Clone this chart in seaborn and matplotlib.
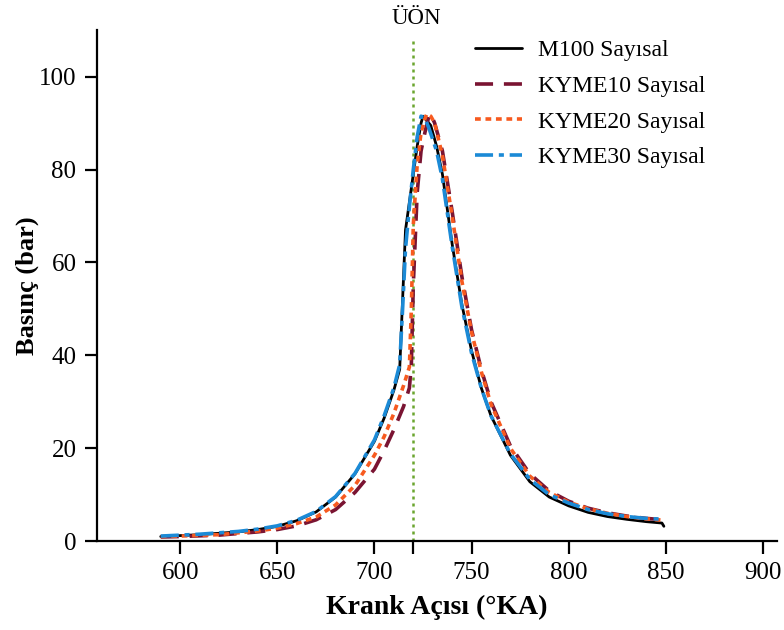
import numpy as np
import pandas as pd
import matplotlib
matplotlib.use("Agg")
import matplotlib.pyplot as plt
import seaborn as sns

# crank angle (deg) and pressure (bar)
m100_x = [590, 600, 610, 620, 630, 640, 650, 660, 670, 680, 690, 700, 705, 710, 713,
          714.5, 716, 718, 720, 722, 724, 725, 727, 729, 732, 735, 740, 745, 750, 755,
          760, 770, 780, 790, 800, 810, 820, 830, 840, 848, 849]
m100_y = [1.0, 1.2, 1.4, 1.7, 2.0, 2.5, 3.2, 4.4, 6.3, 9.5, 14.5, 21.5, 26.5, 32.5, 37,
          52, 67, 73, 79, 85, 90, 91.5, 90.5, 89.5, 85, 79, 64, 51, 41, 33,
          27, 18.5, 12.8, 9.5, 7.6, 6.2, 5.3, 4.7, 4.2, 3.9, 3.2]

kyme10_x = [590, 600, 620, 640, 650, 660, 670, 680, 690, 700, 705, 710, 715, 718, 719,
            720, 722, 724, 726, 728, 729, 731, 735, 740, 745, 750, 755, 760, 770, 780,
            790, 800, 810, 820, 830, 840, 849]
kyme10_y = [0.9, 1.0, 1.3, 2.0, 2.5, 3.3, 4.6, 6.8, 10.5, 15.5, 19.5, 24, 29, 33, 38,
            55, 75, 84, 88, 91.5, 92, 90, 84, 71, 57, 45.5, 37, 30, 20.5, 14.5,
            10.8, 8.6, 7.1, 6.1, 5.4, 4.9, 4.6]

kyme20_x = [590, 600, 620, 640, 650, 660, 670, 680, 690, 700, 705, 710, 715, 718, 719,
            720, 722, 724, 726, 727, 729, 731, 735, 740, 745, 750, 755, 760, 770, 780,
            790, 800, 810, 820, 830, 840, 849]
kyme20_y = [1.0, 1.1, 1.4, 2.2, 2.8, 3.8, 5.2, 7.8, 12.0, 18.5, 22.5, 27.5, 33.5, 37.5, 50,
            68, 81, 88, 91, 92, 91.5, 90, 83, 70, 56, 45, 36.5, 29.5, 20, 14,
            10.5, 8.4, 7.0, 6.0, 5.3, 4.8, 4.5]

kyme30_x = [590, 600, 610, 620, 630, 640, 650, 660, 670, 680, 690, 700, 705, 710, 713,
            714.5, 716, 718, 720, 722, 724, 726, 728, 732, 735, 740, 745, 750, 755,
            760, 770, 780, 790, 800, 810, 820, 830, 840, 849]
kyme30_y = [1.1, 1.3, 1.5, 1.8, 2.1, 2.6, 3.3, 4.5, 6.4, 9.6, 14.6, 21.8, 27, 33, 38,
            50, 63, 72, 80, 87, 91.5, 91, 89, 84, 78, 63.5, 50.5, 40.5, 33,
            27, 18.8, 13.3, 10.0, 8.2, 6.8, 5.9, 5.3, 4.9, 4.7]

labels = ["M100 Sayısal", "KYME10 Sayısal", "KYME20 Sayısal", "KYME30 Sayısal"]
tdc = 720

sns.set_style("ticks")
plt.rcParams["font.family"] = ["Liberation Serif", "DejaVu Serif"]
plt.rcParams.update({
    "axes.linewidth": 1.6,
    "axes.edgecolor": "black",
    "text.color": "black",
    "axes.labelcolor": "black",
    "xtick.color": "black",
    "ytick.color": "black",
})

fig = plt.figure(figsize=(7.84, 6.3), dpi=100)
ax = fig.add_axes([0.124, 0.141, 0.867, 0.811])

ax.axvline(tdc, ymax=0.985, color="#6aa52e", linestyle=(0, (1.2, 1.6)), linewidth=1.8, zorder=1)

series = [
    (m100_x, m100_y, "black", "-", 2.0),
    (kyme10_x, kyme10_y, "#7a1432", (0, (5, 3)), 2.6),
    (kyme20_x, kyme20_y, "#f75a1f", (0, (1.6, 1.3)), 2.6),
    (kyme30_x, kyme30_y, "#1b8ad6", (0, (5, 1.6, 1.4, 1.6)), 2.6),
]
for (xs, ys, c, ls, lw), lab in zip(series, labels):
    sns.lineplot(x=xs, y=ys, ax=ax, color=c, linestyle=ls, linewidth=lw,
                 label=lab, sort=False, estimator=None)

ax.set_xlim(557.3, 907.2)
ax.set_ylim(0, 110)
ax.set_xticks([600, 650, 700, 720, 750, 800, 850, 900])
ax.set_xticklabels(["600", "650", "700", "", "750", "800", "850", "900"])
ax.set_yticks([0, 20, 40, 60, 80, 100])
ax.tick_params(axis="both", direction="out", length=9, width=1.6, labelsize=18, pad=6)
sns.despine(ax=ax)

ax.set_xlabel("Krank Açısı (°KA)", fontsize=20, fontweight="bold", labelpad=8)
ax.set_ylabel("Basınç (bar)", fontsize=19, fontweight="bold", labelpad=0)
ax.text(tdc + 1.5, 111.3, "ÜÖN", ha="center", va="baseline", fontsize=16.5)

ax.legend(loc="upper left", bbox_to_anchor=(0.542, 1.0), frameon=False, fontsize=17,
          handlelength=2.0, handletextpad=0.68, labelspacing=0.6, borderaxespad=0)

fig.savefig("out.png", dpi=100)
